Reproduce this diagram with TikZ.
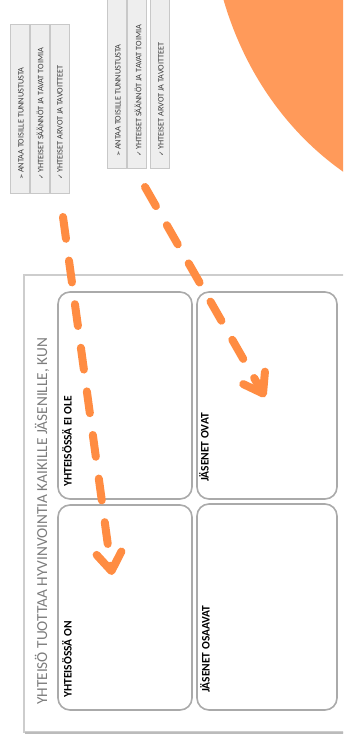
\documentclass[tikz,border=0pt]{standalone}
\usepackage{fontspec}
\setmainfont{Carlito}
\newfontfamily\symfont{DejaVu Sans}
\usetikzlibrary{arrows.meta}
\definecolor{orng}{RGB}{255,154,90}
\definecolor{arrorange}{RGB}{255,140,66}
\definecolor{boxgray}{RGB}{170,170,170}
\definecolor{framegray}{RGB}{205,205,205}
\definecolor{stripfill}{RGB}{238,238,238}
\definecolor{stripedge}{RGB}{200,200,200}
\definecolor{striptxt}{RGB}{60,60,60}
\definecolor{titlegray}{RGB}{125,125,125}
\newcommand\arrmark{{\symfont\fontsize{6.5}{6.5}\selectfont\char"27A2}\,}
\newcommand\chkmark{{\symfont\fontsize{6.5}{6.5}\selectfont\char"2713}\,}
\begin{document}
\begin{tikzpicture}[x=1pt,y=-1pt,
  cell/.style={draw=boxgray, line width=1.6pt, rounded corners=12pt, inner sep=0pt},
  strip/.style={draw=stripedge, fill=stripfill, line width=0.8pt, inner sep=0pt, minimum width=19pt},
  celllabel/.style={rotate=90, anchor=west, font=\bfseries\fontsize{11.5}{13}\selectfont, inner sep=0pt},
  striptext/.style={rotate=90, anchor=west, font=\fontsize{8.3}{10}\selectfont, text=striptxt, inner sep=0pt},
  titletext/.style={rotate=90, anchor=west, font=\fontsize{15.3}{17}\selectfont, text=titlegray, inner sep=0pt},
  dasharrow/.style={draw=arrorange, line width=8pt, line cap=round, dash pattern=on 22pt off 22pt, -{Straight Barb[length=18pt,width=25pt,round]}},
]
\clip (0,0) rectangle (343,744);
\fill[white] (0,0) rectangle (343,744);
% orange disc
\fill[orng] (223,-2) .. controls (245,75) and (290,135) .. (345,173) -- (345,-2) -- cycle;

% sticky strips, left group
\node[strip, minimum height=169pt] (l1) at (19.5,108.5) {};
\node[strip, minimum height=169pt] (l2) at (40,108.5) {};
\node[strip, minimum height=169pt] (l3) at (60,108.5) {};
\node[striptext] (l1t) at (21,180) {\arrmark ANTAA TOISILLE TUNNUSTUSTA};
\node[striptext] (l2t) at (40,180) {\chkmark YHTEISET SÄÄNNÖT JA TAVAT TOIMIA};
\node[striptext] (l3t) at (60,180) {\chkmark YHTEISET ARVOT JA TAVOITTEET};

% sticky strips, right group
\node[strip, minimum height=175pt] (r1) at (117,80.5) {};
\node[strip, minimum height=175pt] (r2) at (137,80.5) {};
\node[strip, minimum height=175pt] (r3) at (160,80.5) {};
\node[striptext] (r1t) at (118,157) {\arrmark ANTAA TOISILLE TUNNUSTUSTA};
\node[striptext] (r2t) at (138,157) {\chkmark YHTEISET SÄÄNNÖT JA TAVAT TOIMIA};
\node[striptext] (r3t) at (161,157) {\chkmark YHTEISET ARVOT JA TAVOITTEET};

% frame
\fill[white] (24,275) rectangle (360,732);
\draw[framegray, line width=1.2pt] (24,275) rectangle (360,732);
\draw[boxgray!80, line width=1.6pt] (25,733) -- (360,733);
\node[titletext] (title) at (42,705) {YHTEISÖ TUOTTAA HYVINVOINTIA KAIKILLE JÄSENILLE, KUN};

% cells
\node[cell, minimum width=134pt, minimum height=207pt] (tl) at (125,395.5) {};
\node[cell, minimum width=134pt, minimum height=205pt] (bl) at (125,607.5) {};
\node[cell, minimum width=140pt, minimum height=207pt] (tr) at (267,395.5) {};
\node[cell, minimum width=140pt, minimum height=206pt] (br) at (267,607) {};
\node[celllabel] (tll) at (67,487) {YHTEISÖSSÄ EI OLE};
\node[celllabel] (bll) at (67,698) {YHTEISÖSSÄ ON};
\node[celllabel] (trl) at (204,482) {JÄSENET OVAT};
\node[celllabel] (brl) at (205,693) {JÄSENET OSAAVAT};

% arrows
\coordinate (a1s) at (63,217);
\coordinate (a1e) at (112,575);
\coordinate (a2s) at (145,187);
\coordinate (a2e) at (265,397);
\draw[dasharrow] (a1s) -- (a1e);
\draw[dasharrow] (a2s) -- (a2e);
\end{tikzpicture}
\end{document}
